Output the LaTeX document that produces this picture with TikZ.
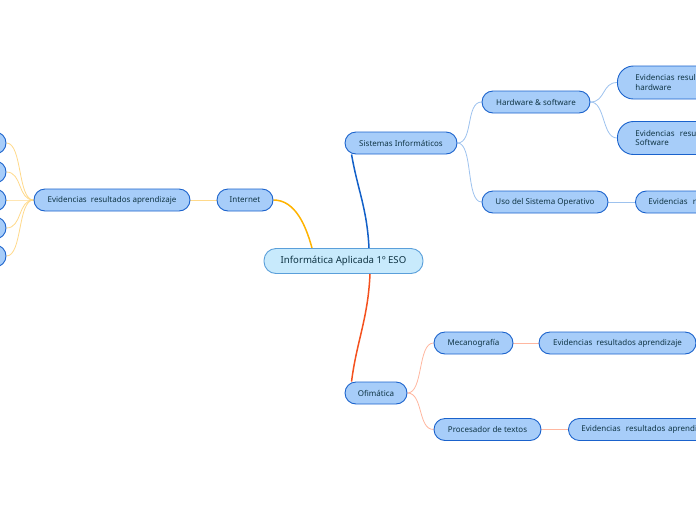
\documentclass[tikz,border=0pt]{standalone}
\usepackage{fontspec}
\setmainfont{Noto Sans}
\usetikzlibrary{calc,backgrounds}
\definecolor{nfill}{HTML}{A7CDF9}
\definecolor{nline}{HTML}{1A62CC}
\definecolor{cfill}{HTML}{C8EAFC}
\definecolor{cline}{HTML}{5A9FDA}
\definecolor{ntext}{HTML}{0F3444}
\definecolor{orangeb}{HTML}{FFB300}
\definecolor{blueb}{HTML}{1260C8}
\definecolor{redb}{HTML}{F4511E}
\definecolor{lyellow}{HTML}{FFD98A}
\definecolor{lblue}{HTML}{9DC2EE}
\definecolor{lsalmon}{HTML}{FFB7A0}
\tikzset{
  topic/.style={draw=nline, fill=nfill, line width=0.9pt, rounded corners=11pt,
    minimum height=22pt, inner sep=0pt, text=ntext, font=\fontsize{8}{9.5}\selectfont},
  topic2/.style={topic, rounded corners=16pt, minimum height=33pt, align=left, text width=150pt, inner xsep=0pt},
  central/.style={draw=cline, fill=cfill, line width=0.9pt, rounded corners=12pt,
    minimum height=25pt, minimum width=159pt, inner sep=0pt, text=ntext, font=\fontsize{9.6}{11}\selectfont},
  mainb/.style={line width=1.5pt},
  thin/.style={line width=0.8pt},
}
\begin{document}
\begin{tikzpicture}[x=1pt,y=-1pt]
\useasboundingbox (0,0) rectangle (696,520);
% central
\node[central] (c) at (343.5,261) {Informática Aplicada 1º ESO};
% left branch
\node[topic, minimum width=56pt] (int) at (245,200) {Internet};
\node[topic, minimum width=156pt] (evl) at (112,200) {Evidencias\ \ resultados aprendizaje};
\node[topic, minimum width=46pt] (s1) at (-17,143) {};
\node[topic, minimum width=46pt] (s2) at (-17,172) {};
\node[topic, minimum width=46pt] (s3) at (-17,200) {};
\node[topic, minimum width=46pt] (s4) at (-17,228) {};
\node[topic, minimum width=46pt] (s5) at (-17,256) {};
% top right branch
\node[topic, minimum width=112pt] (si) at (401,143) {Sistemas Informáticos};
\node[topic, minimum width=108pt] (hw) at (536,102) {Hardware \& software};
\node[topic, minimum width=126pt] (uso) at (545,202) {Uso del Sistema Operativo};
\node[topic2, anchor=west, text width=150pt, minimum width=170pt] (evh) at (617,82.5) {\hspace*{8pt}Evidencias resultados aprendizaje\\\hspace*{8pt}hardware};
\node[topic2, anchor=west, text width=150pt, minimum width=170pt] (evs) at (617,138) {\hspace*{8pt}Evidencias\ \ resultados aprendizaje\\\hspace*{8pt}Software};
\node[topic, anchor=west, minimum width=160pt, align=left, text width=160pt] (evu) at (635,202) {\hspace*{13pt}Evidencias\ \ resultados aprendizaje};
% bottom branch
\node[topic, minimum width=62pt] (ofi) at (376,393) {Ofimática};
\node[topic, minimum width=79pt] (mec) at (473.5,343) {Mecanografía};
\node[topic, minimum width=157pt] (evm) at (617.5,343) {Evidencias\ \ resultados aprendizaje};
\node[topic, minimum width=107pt] (pro) at (487.5,429.5) {Procesador de textos};
\node[topic, anchor=west, minimum width=160pt, align=left, text width=160pt] (evp) at (568,429.5) {\hspace*{13pt}Evidencias\ \ resultados aprendizaje};
% coordinates for main branches
\coordinate (cO) at ($(c.north)+(-31.5,0)$);
\coordinate (cB) at ($(c.north)+(25.5,0)$);
\coordinate (cR) at ($(c.south)+(26.5,0)$);
\coordinate (siB) at ($(si.south west)+(7,0)$);
\coordinate (ofT) at ($(ofi.north west)+(7,0)$);
% connectors behind nodes
\begin{scope}[on background layer]
\draw[mainb, orangeb] (int.east) .. controls +(22,0) and +(-6,-22) .. (cO);
\draw[mainb, blueb] (siB) .. controls +(6,35) and +(-2,-40) .. (cB);
\draw[mainb, redb] (cR) .. controls +(-2,45) and +(5,-40) .. (ofT);
\draw[thin, lyellow] (int.west) -- (evl.east);
\foreach \s in {s1,s2,s3,s4,s5}
  \draw[thin, lyellow] (evl.west) .. controls +(-16,0) and +(16,0) .. (\s.east);
\draw[thin, lblue] (si.east) .. controls +(16,0) and +(-16,0) .. (hw.west);
\draw[thin, lblue] (si.east) .. controls +(16,0) and +(-16,0) .. (uso.west);
\draw[thin, lblue] (hw.east) .. controls +(15,0) and +(-15,0) .. (evh.west);
\draw[thin, lblue] (hw.east) .. controls +(15,0) and +(-15,0) .. (evs.west);
\draw[thin, lblue] (uso.east) -- (evu.west);
\draw[thin, lsalmon] (ofi.east) .. controls +(16,0) and +(-16,0) .. (mec.west);
\draw[thin, lsalmon] (ofi.east) .. controls +(16,0) and +(-16,0) .. (pro.west);
\draw[thin, lsalmon] (mec.east) -- (evm.west);
\draw[thin, lsalmon] (pro.east) -- (evp.west);
\end{scope}
\end{tikzpicture}
\end{document}
